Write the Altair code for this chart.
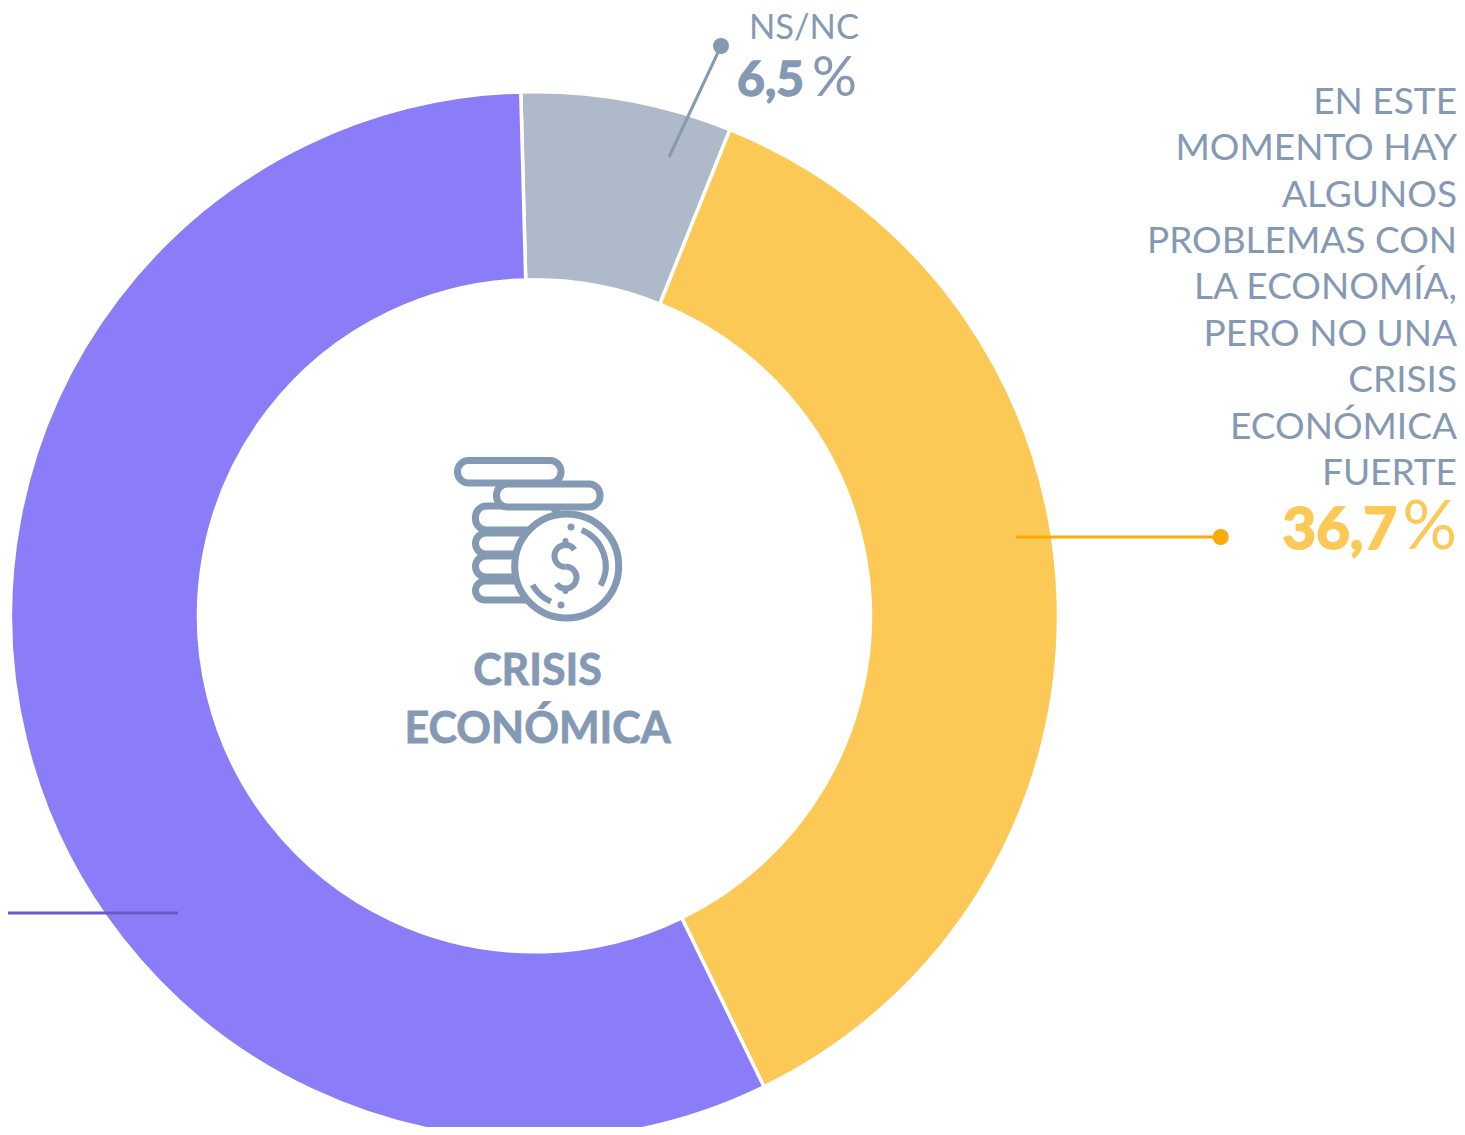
import math
import altair as alt
import pandas as pd

W, H = 1449, 1119

# donut data
seg_names = ["NS/NC", "Problemas, no crisis", "Crisis fuerte"]
seg_values = [6.5, 36.7, 56.8]
seg_colors = ["#aeb9ca", "#fdc956", "#8b7cf7"]
seg_order = [0, 1, 2]
start_deg = -1.5

# text
right_lines = ["EN ESTE", "MOMENTO HAY", "ALGUNOS", "PROBLEMAS CON", "LA ECONOMÍA,",
               "PERO NO UNA", "CRISIS", "ECONÓMICA", "FUERTE"]
right_base = [114, 160, 207, 253, 299, 346, 392, 439, 485]
center_lines = ["CRISIS", "ECONÓMICA"]
center_base = [685, 743]

TEXT = "#8499b3"
FONT = "Lato"

px = alt.Scale(domain=[8, 8 + W], range=[0, W])
py = alt.Scale(domain=[8, 8 + H], range=[0, H])
X = lambda f="x": alt.X(f"{f}:Q", scale=px, axis=None)
Y = lambda f="y": alt.Y(f"{f}:Q", scale=py, axis=None)

start = math.radians(start_deg)
donut_df = pd.DataFrame({"name": seg_names, "v": seg_values, "o": seg_order, "cx": [534.5] * 3, "cy": [615.8] * 3})
donut = alt.Chart(donut_df).mark_arc(innerRadius=336, outerRadius=524, stroke="white", strokeWidth=3.5).encode(
    x=X("cx"), y=Y("cy"),
    theta=alt.Theta("v:Q", stack="zero", scale=alt.Scale(domain=[0, 100], range=[start, start + 2 * math.pi])),
    order=alt.Order("o:Q"),
    color=alt.Color("name:N", scale=alt.Scale(domain=seg_names, range=seg_colors), legend=None),
)


def rule(x, y, x2, y2, color, w=3, cap="butt"):
    d = pd.DataFrame({"x": [x], "y": [y], "x2": [x2], "y2": [y2]})
    return alt.Chart(d).mark_rule(color=color, strokeWidth=w, strokeCap=cap).encode(x=X(), y=Y(), x2="x2:Q", y2="y2:Q")


def dot(x, y, color, r):
    d = pd.DataFrame({"x": [x], "y": [y]})
    return alt.Chart(d).mark_point(filled=True, color=color, opacity=1, size=(2 * r) ** 2, shape="circle").encode(x=X(), y=Y())


def text(lines, xs, ys, size, weight, color, align, bold=0.0):
    d = pd.DataFrame({"t": lines, "x": xs, "y": ys})
    return alt.Chart(d).mark_text(font=FONT, fontSize=size, fontWeight=weight, color=color, align=align,
                                  stroke=color, strokeWidth=bold,
                                  baseline="alphabetic").encode(x=X(), y=Y(), text="t:N")


def arcs(cx, cy, r, a_deg, b_deg, w):
    d = pd.DataFrame({"a": [math.radians(v) for v in a_deg], "b": [math.radians(v) for v in b_deg],
                      "x": cx, "y": cy})
    return alt.Chart(d).mark_arc(innerRadius=r, outerRadius=r, stroke=TEXT, strokeWidth=w, strokeCap="round",
                                 fill=None).encode(x=X(), y=Y(), theta=alt.Theta("a:Q", scale=None), theta2="b:Q")


# coin-stack icon: centre-line bounds of each rounded bar (left, right, top, bottom)
bars_l = [475.5, 475.5, 475.5, 475.5, 496.5, 457.5]
bars_r = [558, 558, 558, 558, 600, 561]
bars_t = [581, 556, 533, 506, 484, 460.5]
bars_b = [600, 577, 554, 530, 507, 483]
icon_bars = alt.Chart(pd.DataFrame({"x": bars_l, "x2": bars_r, "y": bars_t, "y2": bars_b})).mark_rect(
    fill="white", stroke=TEXT, strokeWidth=7, cornerRadius=11).encode(x=X(), x2="x2:Q", y=Y(), y2="y2:Q")
coin = alt.Chart(pd.DataFrame({"x": [566.7], "y": [566]})).mark_point(
    filled=True, fill="white", stroke=TEXT, strokeWidth=7, opacity=1, size=104 ** 2, shape="circle"
).encode(x=X(), y=Y())

chart = alt.layer(
    donut,
    rule(721, 46, 669, 157, TEXT),
    dot(721, 46, TEXT, 8),
    rule(1016, 537, 1220, 537, "#fbab06"),
    dot(1220.7, 537, "#fbab06", 8),
    rule(8, 913, 178, 913, "#6a5ac8"),
    icon_bars,
    coin,
    arcs([566.7, 566.7], [566, 566], 39, [22.6, 204], [120, 241], 6),
    dot(571, 527, TEXT, 3.5),
    dot(561, 605, TEXT, 3.5),
    arcs([565.5, 565.5], [556, 577.5], 11, [180, 0], [415, 235], 6),
    rule(565.5, 541, 565.5, 544, TEXT, 6, "round"),
    rule(565.5, 589, 565.5, 591, TEXT, 6, "round"),
    text(center_lines, [537.5, 537.5], center_base, 43, 700, TEXT, "center", 0.8),
    text(right_lines, [1457] * len(right_lines), right_base, 37, 400, TEXT, "right"),
    text(["NS/NC"], [859], [39], 34.5, 400, TEXT, "right"),
    text(["6,5"], [804], [96], 48, 700, TEXT, "right", 1.5),
    text(["%"], [857], [96], 56, 400, TEXT, "right"),
    text(["36,7"], [1397], [549], 58, 700, "#fdc956", "right", 2),
    text(["%"], [1457], [549], 68, 400, "#fdc956", "right"),
).resolve_scale(theta="independent", color="independent").properties(
    width=W, height=H, padding=0, autosize=alt.AutoSizeParams(type="none")
).configure_view(stroke=None)

chart.save("out.html", embed_options={"renderer": "svg", "actions": False})
